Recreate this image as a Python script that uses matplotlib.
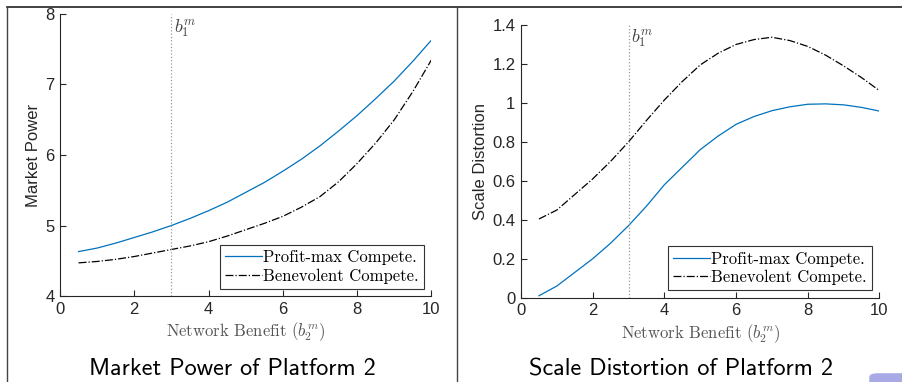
import matplotlib
matplotlib.use("Agg")
import matplotlib.pyplot as plt
from matplotlib.lines import Line2D
from matplotlib.patches import FancyBboxPatch
from matplotlib.ticker import FormatStrFormatter

plt.rcParams['mathtext.fontset'] = 'cm'
plt.rcParams['font.family'] = 'Liberation Sans'

# network benefit of platform 2
b2 = [0.5, 1, 1.5, 2, 2.5, 3, 3.5, 4, 4.5, 5, 5.5, 6, 6.5, 7, 7.5, 8, 8.5, 9, 9.5, 10]

# market power
mp_profit = [4.63, 4.68, 4.75, 4.83, 4.91, 5.00, 5.10, 5.21, 5.33, 5.47,
             5.61, 5.77, 5.94, 6.13, 6.34, 6.56, 6.80, 7.05, 7.33, 7.63]
mp_benev = [4.47, 4.49, 4.52, 4.56, 4.61, 4.66, 4.71, 4.77, 4.85, 4.94,
            5.03, 5.13, 5.26, 5.41, 5.62, 5.88, 6.17, 6.50, 6.90, 7.35]

# scale distortion
sd_profit = [0.01, 0.06, 0.13, 0.20, 0.28, 0.37, 0.47, 0.58, 0.67, 0.76,
             0.83, 0.89, 0.93, 0.96, 0.98, 0.993, 0.995, 0.99, 0.977, 0.958]
sd_benev = [0.404, 0.45, 0.53, 0.61, 0.70, 0.80, 0.91, 1.015, 1.11, 1.195,
            1.255, 1.30, 1.325, 1.337, 1.32, 1.29, 1.245, 1.19, 1.13, 1.063]

b1 = 3
xticks = [0, 2, 4, 6, 8, 10]
labels = ['Profit-max Compete.', 'Benevolent Compete.']

blue = '#0072BD'
axcol = '#262626'
W, H = 903, 382

fig = plt.figure(figsize=(9.03, 3.82), dpi=100)

ax1 = fig.add_axes([0.0664, 0.2251, 0.4114, 0.7383])
ax2 = fig.add_axes([0.577, 0.2207, 0.3969, 0.7139])


def style(ax, ylims, yticks, ylabel, title, title_x):
    ax.set_xlim(0, 10)
    ax.set_ylim(*ylims)
    ax.set_xticks(xticks)
    ax.set_yticks(yticks)
    ax.yaxis.set_major_formatter(FormatStrFormatter('%g'))
    for s in ['top', 'right']:
        ax.spines[s].set_visible(False)
    for s in ['left', 'bottom']:
        ax.spines[s].set_color(axcol)
        ax.spines[s].set_linewidth(0.8)
    ax.tick_params(direction='in', length=4, width=0.8, colors=axcol,
                   labelsize=12, pad=4)
    ax.set_ylabel(ylabel, fontsize=12, color=axcol, labelpad=3)
    ax.set_xlabel('Network Benefit ($b_2^m$)', family='cmr10', fontsize=12,
                  color='#555555', labelpad=3)
    # caption centred under each half of the slide
    fig.text(title_x / W, 1 - 375 / H, title, family='cmss10',
             ha='center', va='baseline', fontsize=17.4, color='black')


def legend(ax):
    handles = [Line2D([], [], color=blue, lw=0.9),
               Line2D([], [], color='black', lw=0.9, ls='-.')]
    lg = ax.legend(handles, labels, loc='lower right',
                   prop={'family': 'cmr10', 'size': 12}, frameon=True,
                   fancybox=False, framealpha=1, edgecolor='#333333',
                   handlelength=2.2, handletextpad=0.1, borderpad=0.3,
                   labelspacing=0.2, borderaxespad=0.45)
    lg.get_frame().set_linewidth(0.8)


# market power panel
ax1.plot(b2, mp_profit, color=blue, lw=0.9)
ax1.plot(b2, mp_benev, color='black', lw=0.9, ls='-.')
ax1.axvline(b1, color='#999999', ls=':', lw=0.9)
ax1.text(b1 + 0.08, 7.95, r'$b_1^m$', fontsize=13, color='#444444', va='top')
style(ax1, (4, 8), [4, 5, 6, 7, 8], 'Market Power',
      'Market Power of Platform 2', 232)
legend(ax1)

# scale distortion panel
ax2.plot(b2, sd_profit, color=blue, lw=0.9)
ax2.plot(b2, sd_benev, color='black', lw=0.9, ls='-.')
ax2.axvline(b1, color='#999999', ls=':', lw=0.9)
ax2.text(b1 + 0.08, 1.39, r'$b_1^m$', fontsize=13, color='#444444', va='top')
style(ax2, (0, 1.4), [0, 0.2, 0.4, 0.6, 0.8, 1, 1.2, 1.4], 'Scale Distortion',
      'Scale Distortion of Platform 2', 681)
legend(ax2)

# slide frame lines
fig.add_artist(Line2D([7 / W, 1], [1 - 7 / H, 1 - 7 / H], color='#222222', lw=1.2))
fig.add_artist(Line2D([7 / W, 7 / W], [0, 1 - 7 / H], color='#444444', lw=1.0))
fig.add_artist(Line2D([457 / W, 457 / W], [0, 1 - 7 / H], color='#444444', lw=1.0))
fig.add_artist(FancyBboxPatch((872 / W, -0.02), 0.05, 0.04,
                              boxstyle='round,pad=0.003,rounding_size=0.01',
                              transform=fig.transFigure, color='#a9a9e6', lw=0))

fig.savefig('out.png', dpi=100)
